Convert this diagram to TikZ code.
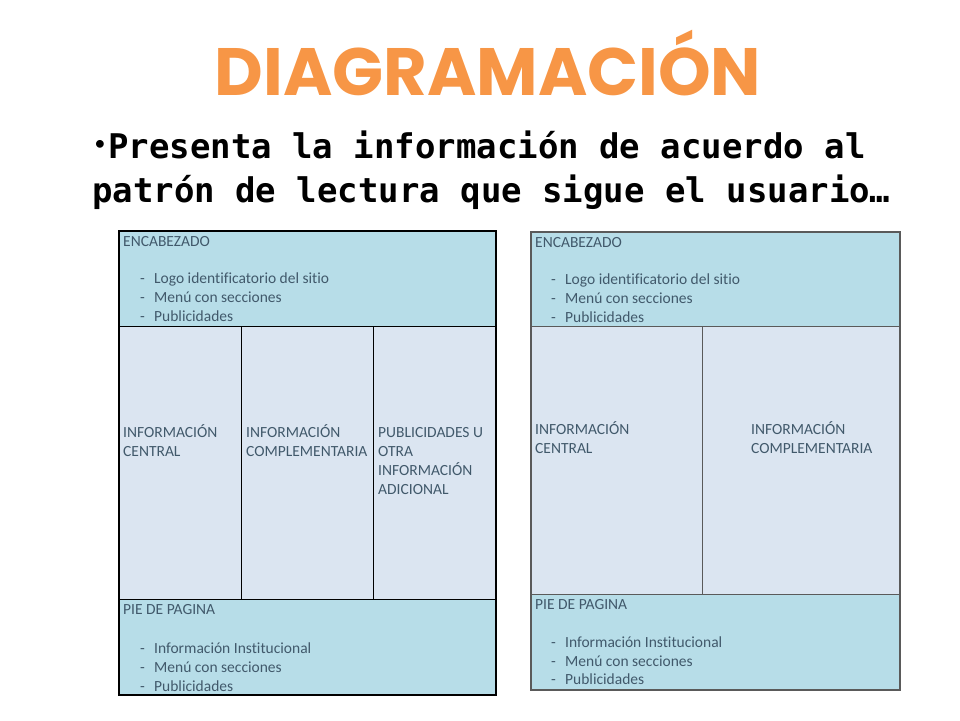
\documentclass[tikz,border=0pt]{standalone}
\usepackage{fontspec}
\setmainfont{Carlito}[Ligatures=NoCommon]
\newfontfamily\titlefont{Poppins}
\newfontfamily\bulletfont{DejaVu Sans Mono}
\definecolor{titleorange}{HTML}{F79646}
\definecolor{hdrblue}{HTML}{B7DDE8}
\definecolor{midblue}{HTML}{DBE5F1}
\definecolor{boxtext}{HTML}{41596B}
\definecolor{framegray}{HTML}{5A5A5A}

\begin{document}
\begin{tikzpicture}[x=1pt,y=-1pt,
    panel/.style={draw=black, line width=0.8pt, anchor=north west, inner sep=0pt},
    lbl/.style={anchor=base west, inner sep=0pt, text=boxtext, font=\fontsize{15.5}{19}\selectfont},
    linetext/.style={anchor=base west, inner sep=0pt, font=\bulletfont\bfseries\fontsize{34}{44}\selectfont}]
    \useasboundingbox (0,0) rectangle (960,720);

    % Title
    \node[text=titleorange, font=\titlefont\bfseries\fontsize{67}{72}\selectfont] (title) at (488,63) {DIAGRAMACIÓN};

    % Bullet text
    \node[inner sep=0pt, font=\bulletfont\bfseries\fontsize{22}{22}\selectfont] (dot) at (100,146) {•};
    \node[linetext] (lineone) at (108,158) {Presenta la información de acuerdo al};
    \node[linetext] (linetwo) at (92,202) {patrón de lectura que sigue el usuario…};

    % Left layout (three columns)
    \node[panel, fill=hdrblue, minimum width=377, minimum height=96] (lhead) at (118,230) {};
    \node[panel, fill=midblue, minimum width=123, minimum height=273] (lcolA) at (118,326) {};
    \node[panel, fill=midblue, minimum width=132, minimum height=273] (lcolB) at (241,326) {};
    \node[panel, fill=midblue, minimum width=122, minimum height=273] (lcolC) at (373,326) {};
    \node[panel, fill=hdrblue, minimum width=377, minimum height=95] (lfoot) at (118,599) {};
    \node[panel, line width=1.5pt, minimum width=377, minimum height=464] (lframe) at (118,230) {};

    \node[lbl] (lheadtitle) at (123,246) {ENCABEZADO};
    \node[lbl] (lheaddA) at (140,283) {-};
    \node[lbl] (lheaditemA) at (154,283) {Logo identificatorio del sitio};
    \node[lbl] (lheaddB) at (140,302) {-};
    \node[lbl] (lheaditemB) at (154,302) {Menú con secciones};
    \node[lbl] (lheaddC) at (140,321) {-};
    \node[lbl] (lheaditemC) at (154,321) {Publicidades};

    % multi-line labels sit on their last baseline
    \node[lbl, align=left] (lcolAtext) at (123,456) {INFORMACIÓN\\CENTRAL};
    \node[lbl, align=left] (lcolBtext) at (246,456) {INFORMACIÓN\\COMPLEMENTARIA};
    \node[lbl, align=left] (lcolCtext) at (378,494) {PUBLICIDADES U\\OTRA\\INFORMACIÓN\\ADICIONAL};

    \node[lbl] (lfoottitle) at (123,614) {PIE DE PAGINA};
    \node[lbl] (lfootdA) at (140,653) {-};
    \node[lbl] (lfootitemA) at (154,653) {Información Institucional};
    \node[lbl] (lfootdB) at (140,672) {-};
    \node[lbl] (lfootitemB) at (154,672) {Menú con secciones};
    \node[lbl] (lfootdC) at (140,691) {-};
    \node[lbl] (lfootitemC) at (154,691) {Publicidades};

    % Right layout (two columns)
    \node[panel, draw=framegray, fill=hdrblue, minimum width=369, minimum height=95] (rhead) at (530,231) {};
    \node[panel, draw=framegray, fill=midblue, minimum width=172, minimum height=268] (rcolA) at (530,326) {};
    \node[panel, draw=framegray, fill=midblue, minimum width=197, minimum height=268] (rcolB) at (702,326) {};
    \node[panel, draw=framegray, fill=hdrblue, minimum width=369, minimum height=95] (rfoot) at (530,594) {};
    \node[panel, draw=framegray, line width=2pt, minimum width=369, minimum height=458] (rframe) at (530,231) {};

    \node[lbl] (rheadtitle) at (535,247) {ENCABEZADO};
    \node[lbl] (rheaddA) at (551,284) {-};
    \node[lbl] (rheaditemA) at (565,284) {Logo identificatorio del sitio};
    \node[lbl] (rheaddB) at (551,303) {-};
    \node[lbl] (rheaditemB) at (565,303) {Menú con secciones};
    \node[lbl] (rheaddC) at (551,322) {-};
    \node[lbl] (rheaditemC) at (565,322) {Publicidades};

    \node[lbl, align=left] (rcolAtext) at (535,453) {INFORMACIÓN\\CENTRAL};
    \node[lbl, align=left] (rcolBtext) at (751,453) {INFORMACIÓN\\COMPLEMENTARIA};

    \node[lbl] (rfoottitle) at (535,609) {PIE DE PAGINA};
    \node[lbl] (rfootdA) at (551,647) {-};
    \node[lbl] (rfootitemA) at (565,647) {Información Institucional};
    \node[lbl] (rfootdB) at (551,666) {-};
    \node[lbl] (rfootitemB) at (565,666) {Menú con secciones};
    \node[lbl] (rfootdC) at (551,684) {-};
    \node[lbl] (rfootitemC) at (565,684) {Publicidades};
\end{tikzpicture}
\end{document}
